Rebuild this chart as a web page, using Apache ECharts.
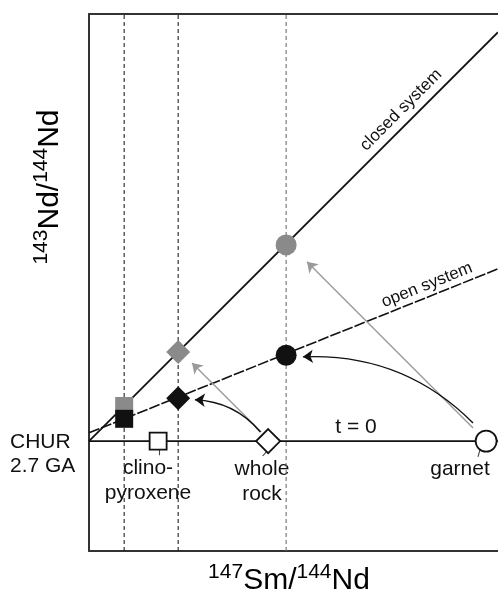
<!DOCTYPE html>
<html>
<head>
<meta charset="utf-8">
<script src="https://cdn.jsdelivr.net/npm/echarts@6/dist/echarts.min.js"></script>
<style>
html,body{margin:0;padding:0;background:#fff;}
#chart{width:498px;height:593px;}
</style>
</head>
<body>
<div id="chart"></div>
<script>
// ---- data (schematic units) ----
const xRange = [0, 1];
const yRange = [0, 1.3];
const churY = 0.266;                       // CHUR at 2.7 Ga, t = 0 line
const closedLine = [[0, 0.266], [1, 1.256]];
const openLine = [[0, 0.286], [1, 0.683]];
const dashX = [0.086, 0.218, 0.482];       // vertical guide lines
const dashColor = ['#222', '#222', '#6e6e6e'];
const presentX = [0.169, 0.438, 0.971];    // t = 0 positions: cpx, whole rock, garnet
const presentSymbols = ['rect', 'diamond', 'circle'];
const closedPts = [[0.086, 0.351], [0.218, 0.482], [0.482, 0.741]];
const openPts = [[0.086, 0.320], [0.218, 0.370], [0.482, 0.474]];
const ptSymbols = ['rect', 'diamond', 'circle'];
const ptSizes = [18, 24, 21];
const tailTicks = [
  [[0.171, 0.247], [0.171, 0.232]],
  [[0.435, 0.242], [0.425, 0.230]],
  [[0.956, 0.245], [0.951, 0.228]]
];
const grayArrows = [
  [[0.421, 0.288], [0.252, 0.455]],
  [[0.939, 0.298], [0.533, 0.700]]
];
const blackArrows = [
  [[0.419, 0.288], [0.259, 0.366]],
  [[0.939, 0.310], [0.523, 0.470]]
];
const mineralLabels = ['clino-\npyroxene', 'whole\nrock', 'garnet'];

const BLACK = '#111';
const GRAY = '#8a8a8a';
const FONT = '"Liberation Sans", Arial, sans-serif';

const chart = echarts.init(document.getElementById('chart'), null, {renderer: 'canvas'});

const series = [];
// vertical dashed lines
dashX.forEach((x, i) => {
  series.push({
    type: 'line', data: [[x, yRange[0]], [x, yRange[1]]], symbol: 'none', silent: true,
    lineStyle: {color: dashColor[i], width: 1.1, type: [4, 3]}, z: 1
  });
});
// CHUR t=0 line
series.push({
  type: 'line', data: [[xRange[0], churY], [xRange[1], churY]], symbol: 'none',
  lineStyle: {color: BLACK, width: 1.8}, z: 2
});
// closed system isochron
series.push({
  type: 'line', data: closedLine, symbol: 'none',
  lineStyle: {color: BLACK, width: 1.8}, z: 2
});
// open system line
series.push({
  type: 'line', data: openLine, symbol: 'none',
  lineStyle: {color: BLACK, width: 1.6, type: [11, 2]}, z: 2
});
// tails below t=0 markers
series.push({
  type: 'lines', coordinateSystem: 'cartesian2d', z: 3,
  data: tailTicks.map(c => ({coords: c})),
  lineStyle: {color: '#444', width: 1.1, opacity: 1}
});
// arrows
series.push({
  type: 'lines', coordinateSystem: 'cartesian2d', z: 3,
  symbol: ['none', 'arrow'], symbolSize: 10,
  data: grayArrows.map(c => ({coords: c})),
  lineStyle: {color: '#9a9a9a', width: 1.4, opacity: 1, curveness: 0}
});
series.push({
  type: 'lines', coordinateSystem: 'cartesian2d', z: 3,
  symbol: ['none', 'arrow'], symbolSize: 10,
  data: blackArrows.map(c => ({coords: c})),
  lineStyle: {color: BLACK, width: 1.4, opacity: 1, curveness: -0.22}
});
// present-day points (open symbols)
series.push({
  type: 'scatter', z: 5,
  data: presentX.map((x, i) => ({value: [x, churY], symbol: presentSymbols[i], symbolSize: ptSizes[i] - (i === 0 ? 1 : 0)})),
  itemStyle: {color: '#fff', borderColor: BLACK, borderWidth: 1.8, opacity: 1}
});
// closed system points (gray)
series.push({
  type: 'scatter', z: 5,
  data: closedPts.map((p, i) => ({value: p, symbol: ptSymbols[i], symbolSize: ptSizes[i]})),
  itemStyle: {color: GRAY, opacity: 1}
});
// open system points (black)
series.push({
  type: 'scatter', z: 6,
  data: openPts.map((p, i) => ({value: p, symbol: ptSymbols[i], symbolSize: ptSizes[i]})),
  itemStyle: {color: BLACK, opacity: 1}
});

const supTitle = (a, b, c, d) => `{sup|${a}}{main|${b}}{sup|${c}}{main|${d}}`;
const titleRich = {
  main: {fontSize: 30, fontFamily: FONT, color: BLACK, lineHeight: 34, verticalAlign: 'bottom'},
  sup: {fontSize: 21, fontFamily: FONT, color: BLACK, lineHeight: 34, verticalAlign: 'top'}
};

const tx = (x, y, text, size, align, rot) => ({
  type: 'text', x: x, y: y, rotation: rot || 0, silent: true,
  style: {text: text, fontSize: size, lineHeight: 25, fontFamily: FONT, fill: BLACK,
          align: align || 'center', verticalAlign: 'middle'}
});

const graphic = [
  tx(10, 442, 'CHUR', 21, 'left'),
  tx(10, 466, '2.7 GA', 21, 'left'),
  tx(356, 427, 't = 0', 21),
  tx(148, 481, mineralLabels[0], 21),
  tx(262, 482, mineralLabels[1], 21),
  tx(460, 469, mineralLabels[2], 21),
  tx(401, 110, 'closed system', 17, 'center', Math.PI / 4),
  tx(427, 285, 'open system', 17, 'center', Math.atan(164 / 409)),
  {type: 'text', x: 289, y: 579, silent: true,
   style: {text: supTitle('147', 'Sm/', '144', 'Nd'), rich: titleRich, align: 'center', verticalAlign: 'middle'}},
  {type: 'text', x: 48, y: 187, rotation: Math.PI / 2, silent: true,
   style: {text: supTitle('143', 'Nd/', '144', 'Nd'), rich: titleRich, align: 'center', verticalAlign: 'middle'}}
];

chart.setOption({
  animation: false,
  grid: {left: 89, top: 14, width: 409, height: 537, containLabel: false},
  xAxis: [
    {type: 'value', min: xRange[0], max: xRange[1], position: 'bottom',
     axisLine: {show: true, onZero: false, lineStyle: {color: '#333', width: 2}},
     axisTick: {show: false}, axisLabel: {show: false}, splitLine: {show: false}},
    {type: 'value', min: xRange[0], max: xRange[1], position: 'top',
     axisLine: {show: true, onZero: false, lineStyle: {color: '#333', width: 2}},
     axisTick: {show: false}, axisLabel: {show: false}, splitLine: {show: false}}
  ],
  yAxis: {type: 'value', min: yRange[0], max: yRange[1],
    axisLine: {show: true, onZero: false, lineStyle: {color: '#333', width: 2}},
    axisTick: {show: false}, axisLabel: {show: false}, splitLine: {show: false}},
  series: series,
  graphic: graphic
});
</script>
</body>
</html>
